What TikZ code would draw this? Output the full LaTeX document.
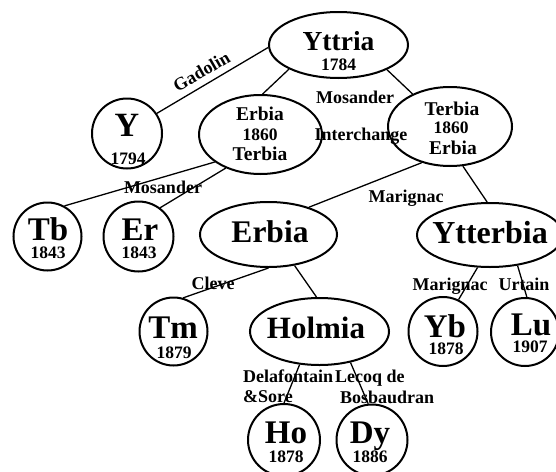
\documentclass[tikz,border=0pt]{standalone}
\usepackage{fontspec}
\setmainfont{Liberation Serif}
\usetikzlibrary{shapes.geometric}
\tikzset{
  oval/.style={draw, ellipse, line width=2pt, inner sep=0pt},
  elem/.style={draw, circle, line width=2pt, inner sep=0pt},
  link/.style={line width=1.3pt},
  txt/.style={anchor=base, inner sep=0pt, font=\bfseries},
  bigt/.style={txt, font=\bfseries\fontsize{33}{33}\selectfont},
  midt/.style={txt, font=\bfseries\fontsize{19.5}{19.5}\selectfont},
  yeart/.style={txt, font=\bfseries\fontsize{17.5}{17.5}\selectfont},
  lab/.style={txt, font=\bfseries\fontsize{18}{18}\selectfont},
}
\begin{document}
\begin{tikzpicture}[x=1pt,y=-1pt]
\path[use as bounding box, clip] (0,0) rectangle (556,471);
\fill[white] (0,0) rectangle (556,471);
% shapes
\node[oval, minimum width=139pt, minimum height=66pt] (yttria) at (338.5,45) {};
\node[oval, minimum width=123pt, minimum height=79pt] (erbiaA) at (260.5,134.5) {};
\node[oval, minimum width=124pt, minimum height=79pt] (terbiaA) at (450,126.5) {};
\node[elem, minimum size=70pt] (yel) at (127,133.5) {};
\node[oval, minimum width=137pt, minimum height=65pt] (erbiaB) at (268.5,234.5) {};
\node[oval, minimum width=146pt, minimum height=64pt] (ytterbia) at (490,235) {};
\node[elem, minimum size=68pt] (tb) at (47.5,236.5) {};
\node[elem, minimum size=70pt] (er) at (138.5,236.5) {};
\node[elem, minimum size=68pt] (tm) at (173.5,331.5) {};
\node[oval, minimum width=139pt, minimum height=67pt] (holmia) at (319.5,331.5) {};
\node[elem, minimum size=69pt] (yb) at (443,331.5) {};
\node[elem, minimum size=68pt] (lu) at (525,332) {};
\node[elem, minimum size=72pt] (ho) at (284,440) {};
\node[elem, minimum size=71pt] (dy) at (372,440) {};
% connectors
\draw[link] (yttria.182) -- (yel.34);
\draw[link] (yttria.206) -- (erbiaA.87);
\draw[link] (yttria.333) -- (terbiaA.139);
\draw[link] (erbiaA.211) -- (tb.61);
\draw[link] (erbiaA.224) -- (er.53);
\draw[link] (terbiaA.232) -- (erbiaB.34);
\draw[link] (terbiaA.288) -- (ytterbia.95);
\draw[link] (erbiaB.270) -- (tm.74);
\draw[link] (erbiaB.310) -- (holmia.95);
\draw[link] (ytterbia.249) -- (yb.64);
\draw[link] (ytterbia.312) -- (lu.87);
\draw[link] (holmia.239) -- (ho.90);
\draw[link] (holmia.315) -- (dy.96);
% texts
\node[txt, font=\bfseries\fontsize{27.5}{27.5}\selectfont] (t1) at (338.5,50) {Yttria};
\node[yeart] (t2) at (338.5,70) {1784};
\node[midt] (t3) at (260,120) {Erbia};
\node[yeart] (t4) at (260,140) {1860};
\node[midt] (t5) at (260,160) {Terbia};
\node[midt] (t6) at (452,115) {Terbia};
\node[yeart] (t7) at (451,133) {1860};
\node[midt] (t8) at (453,154) {Erbia};
\node[bigt, font=\bfseries\fontsize{34}{34}\selectfont] (t9) at (127,136) {Y};
\node[yeart] (t10) at (128,164) {1794};
\node[bigt] (t11) at (48,240) {Tb};
\node[yeart] (t12) at (48,258) {1843};
\node[bigt] (t13) at (140,240) {Er};
\node[yeart] (t14) at (139,258) {1843};
\node[bigt, font=\bfseries\fontsize{31.5}{31.5}\selectfont] (t15) at (270,242) {Erbia};
\node[bigt, font=\bfseries\fontsize{32}{32}\selectfont] (t16) at (490,243) {Ytterbia};
\node[bigt] (t17) at (173,338) {Tm};
\node[yeart] (t18) at (174,358) {1879};
\node[bigt, font=\bfseries\fontsize{31}{31}\selectfont] (t19) at (316,338) {Holmia};
\node[bigt] (t20) at (445,337) {Yb};
\node[yeart] (t21) at (446,354) {1878};
\node[bigt] (t22) at (531,335) {Lu};
\node[yeart] (t23) at (530,352) {1907};
\node[bigt] (t24) at (286,443) {Ho};
\node[yeart] (t25) at (286,462) {1878};
\node[bigt] (t26) at (370,443) {Dy};
\node[yeart] (t27) at (370,462) {1886};
% labels
\node[lab, anchor=center, rotate=30] (l1) at (201.5,71.5) {Gadolin};
\node[lab] (l2) at (355,103) {Mosander};
\node[lab] (l3) at (361,140) {Interchange};
\node[lab] (l4) at (163,193) {Mosander};
\node[lab] (l5) at (406,202) {Marignac};
\node[lab] (l6) at (213,289) {Cleve};
\node[lab] (l7) at (450,290) {Marignac};
\node[lab] (l8) at (524,290) {Urtain};
\node[lab, anchor=base west] (l9) at (243,382) {Delafontain};
\node[lab, anchor=base west] (l10) at (243,402) {\&Sore};
\node[lab, anchor=base west] (l11) at (335,382) {Lecoq de};
\node[lab, anchor=base west] (l12) at (340,403) {Bosbaudran};
\end{tikzpicture}
\end{document}
